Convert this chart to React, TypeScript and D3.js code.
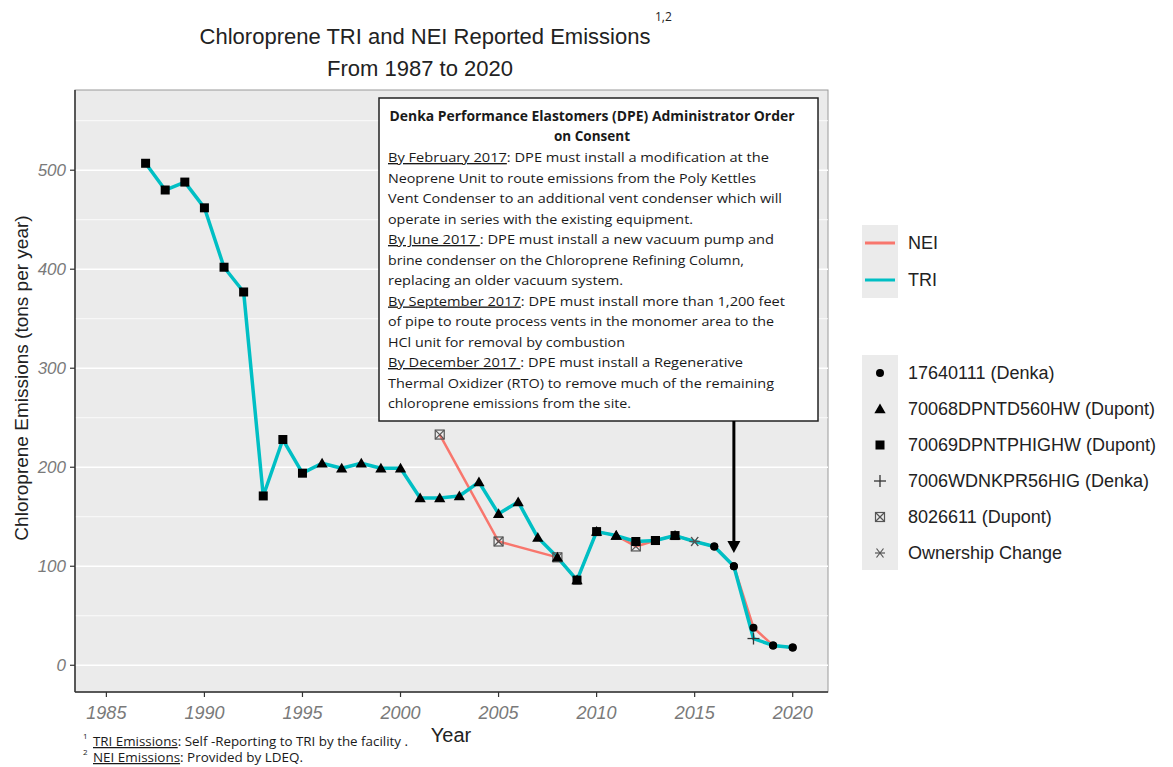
import React from "react";
import * as d3 from "d3";

const triYears = [1987,1988,1989,1990,1991,1992,1993,1994,1995,1996,1997,1998,1999,2000,2001,2002,2003,2004,2005,2006,2007,2008,2009,2010,2011,2012,2013,2014,2015,2016,2017,2018,2019,2020];
const triValues = [507,480,488,462,402,377,171,228,194,204,199,204,199,199,169,169,171,185,153,165,129,109,86,135,131,125,126,131,125,120,100,27,20,18];
const triShapes = ["sq","sq","sq","sq","sq","sq","sq","sq","sq","tri","tri","tri","tri","tri","tri","tri","tri","tri","tri","tri","tri","tri","tri","sq","tri","sq","sq","sq","ast","ci","ci","plus","ci","ci"];

const neiYears = [2002,2005,2008,2009,2010,2011,2012,2013,2014,2015,2016,2017,2018,2019,2020];
const neiValues = [233,125,109,86,135,131,120,126,131,125,120,100,38,20,18];
const neiShapes = ["bx","bx","bx","sq","tri","tri","bx","sq","tri","ast","ci","ci","ci","ci","ci"];

const xTicks = [1985,1990,1995,2000,2005,2010,2015,2020];
const yTicks = [0,100,200,300,400,500];
const yMinor = [50,150,250,350,450,550];

const lineLegend = [
  { label: "NEI", color: "#F8766D" },
  { label: "TRI", color: "#00BFC4" },
];
const shapeLegend = [
  { label: "17640111 (Denka)", shape: "ci" },
  { label: "70068DPNTD560HW (Dupont)", shape: "tri" },
  { label: "70069DPNTPHIGHW (Dupont)", shape: "sq" },
  { label: "7006WDNKPR56HIG (Denka)", shape: "plus" },
  { label: "8026611 (Dupont)", shape: "bx" },
  { label: "Ownership Change", shape: "ast" },
];

type Seg = { u?: string; t: string };
const noteLines: { segs: Seg[]; len: number }[] = [
  { segs: [{ u: "By February 2017", t: ": DPE must install a modification at the" }], len: 381 },
  { segs: [{ t: "Neoprene Unit to route emissions from the Poly Kettles" }], len: 368 },
  { segs: [{ t: "Vent Condenser to an additional vent condenser which will" }], len: 394 },
  { segs: [{ t: "operate in series with the existing equipment." }], len: 305 },
  { segs: [{ u: "By June 2017 ", t: ": DPE must install  a new vacuum pump and" }], len: 386 },
  { segs: [{ t: "brine condenser on the Chloroprene Refining Column," }], len: 356 },
  { segs: [{ t: "replacing an older vacuum system." }], len: 235 },
  { segs: [{ u: "By September 2017", t: ": DPE must install more than 1,200 feet" }], len: 397 },
  { segs: [{ t: "of pipe to route process vents in the monomer area to the" }], len: 386 },
  { segs: [{ t: "HCl unit for removal by combustion" }], len: 237 },
  { segs: [{ u: "By December 2017 ", t: ": DPE must install a Regenerative" }], len: 355 },
  { segs: [{ t: "Thermal Oxidizer (RTO) to remove much of the remaining" }], len: 386 },
  { segs: [{ t: "chloroprene emissions from the site." }], len: 243 },
];

const W = 1173, H = 767;
const panel = { left: 75, right: 828, top: 90, bottom: 692 };
const x = d3.scaleLinear().domain([1983.4, 2021.8]).range([panel.left, panel.right]);
const y = d3.scaleLinear().domain([-27, 581]).range([panel.bottom, panel.top]);

function Marker({ shape, cx, cy }: { shape: string; cx: number; cy: number }) {
  if (shape === "sq") return <rect x={cx - 4.5} y={cy - 4.5} width={9} height={9} fill="#000" />;
  if (shape === "tri") {
    const p = d3.symbol().type(d3.symbolTriangle).size(55)();
    return <path d={p || ""} transform={`translate(${cx},${cy + 1})`} fill="#000" />;
  }
  if (shape === "ci") return <circle cx={cx} cy={cy} r={4} fill="#000" />;
  if (shape === "plus")
    return (
      <g stroke="#333" strokeWidth={1.3}>
        <line x1={cx - 6} x2={cx + 6} y1={cy} y2={cy} />
        <line x1={cx} x2={cx} y1={cy - 6} y2={cy + 6} />
      </g>
    );
  if (shape === "bx")
    return (
      <g stroke="#555" strokeWidth={1.2} fill="none">
        <rect x={cx - 4.5} y={cy - 4.5} width={9} height={9} />
        <line x1={cx - 4.5} x2={cx + 4.5} y1={cy - 4.5} y2={cy + 4.5} />
        <line x1={cx - 4.5} x2={cx + 4.5} y1={cy + 4.5} y2={cy - 4.5} />
      </g>
    );
  if (shape === "ast")
    return (
      <g stroke="#555" strokeWidth={1.2}>
        <line x1={cx - 5} x2={cx + 5} y1={cy} y2={cy} />
        <line x1={cx - 3.5} x2={cx + 3.5} y1={cy - 4.5} y2={cy + 4.5} />
        <line x1={cx - 3.5} x2={cx + 3.5} y1={cy + 4.5} y2={cy - 4.5} />
      </g>
    );
  return null;
}

export default function App() {
  const line = d3.line<[number, number]>().x((d) => x(d[0])).y((d) => y(d[1]));
  const triPts: [number, number][] = triYears.map((yr, i) => [yr, triValues[i]]);
  const neiPts: [number, number][] = neiYears.map((yr, i) => [yr, neiValues[i]]);
  const box = { x: 379, y: 98, w: 439, h: 323 };
  const arrowX = x(2017);
  const sans = "'Liberation Sans', Arial, sans-serif";
  const note = "'Open Sans', 'Noto Sans', sans-serif";
  return (
    <svg width={W} height={H} style={{ position: "absolute", left: 0, top: 0, background: "#fff" }} fontFamily={sans}>
      {/* title */}
      <text x={425} y={44} textAnchor="middle" fontSize={22} fill="#222">Chloroprene TRI and NEI Reported Emissions</text>
      <text x={655} y={21} fontSize={12} fill="#222" fontFamily={note}>1,2</text>
      <text x={420} y={76} textAnchor="middle" fontSize={22} fill="#222">From 1987 to 2020</text>

      {/* panel */}
      <rect x={panel.left} y={panel.top} width={panel.right - panel.left} height={panel.bottom - panel.top} fill="#ebebeb" stroke="#9a9a9a" strokeWidth={1} />
      {yMinor.map((v) => (
        <line key={"m" + v} x1={panel.left} x2={panel.right} y1={y(v)} y2={y(v)} stroke="#fff" strokeWidth={0.8} />
      ))}
      {yTicks.map((v) => (
        <line key={"g" + v} x1={panel.left} x2={panel.right} y1={y(v)} y2={y(v)} stroke="#fff" strokeWidth={1.6} />
      ))}
      {/* axis lines */}
      <line x1={panel.left} x2={panel.left} y1={panel.top} y2={panel.bottom} stroke="#333" strokeWidth={1.5} />
      <line x1={panel.left} x2={panel.right} y1={panel.bottom} y2={panel.bottom} stroke="#333" strokeWidth={1.5} />
      {yTicks.map((v) => (
        <g key={"yt" + v}>
          <line x1={panel.left - 5} x2={panel.left} y1={y(v)} y2={y(v)} stroke="#333" strokeWidth={1.2} />
          <text x={panel.left - 9} y={y(v) + 6} textAnchor="end" fontSize={17} fontStyle="italic" fill="#7a7a7a">{v}</text>
        </g>
      ))}
      {xTicks.map((v) => (
        <g key={"xt" + v}>
          <line x1={x(v)} x2={x(v)} y1={panel.bottom} y2={panel.bottom + 5} stroke="#333" strokeWidth={1.2} />
          <text x={x(v)} y={panel.bottom + 27} textAnchor="middle" fontSize={18} fontStyle="italic" fill="#7a7a7a">{v}</text>
        </g>
      ))}
      <text x={451} y={742} textAnchor="middle" fontSize={20} fill="#222">Year</text>
      <text transform={`translate(28,378) rotate(-90)`} textAnchor="middle" fontSize={19} fill="#222">Chloroprene Emissions (tons per year)</text>

      {/* lines */}
      <path d={line(neiPts) || ""} fill="none" stroke="#F8766D" strokeWidth={2.5} strokeLinejoin="round" />
      <path d={line(triPts) || ""} fill="none" stroke="#00BFC4" strokeWidth={3.5} strokeLinejoin="round" />
      {neiPts.map((p, i) => (
        <Marker key={"n" + i} shape={neiShapes[i]} cx={x(p[0])} cy={y(p[1])} />
      ))}
      {triPts.map((p, i) => (
        <Marker key={"t" + i} shape={triShapes[i]} cx={x(p[0])} cy={y(p[1])} />
      ))}

      {/* annotation */}
      <rect x={box.x} y={box.y} width={box.w} height={box.h} fill="#fff" stroke="#222" strokeWidth={1.5} />
      <g fontFamily={note} fontSize={13.5} fill="#1a1a1a">
        <text x={592} y={121} textAnchor="middle" fontWeight="bold" textLength={405} lengthAdjust="spacingAndGlyphs">Denka Performance Elastomers (DPE) Administrator Order</text>
        <text x={592} y={141} textAnchor="middle" fontWeight="bold" textLength={76} lengthAdjust="spacingAndGlyphs">on Consent</text>
        {noteLines.map((l, i) => (
          <text key={"nl" + i} x={388} y={162 + i * 20.5} textLength={l.len} lengthAdjust="spacingAndGlyphs">
            {l.segs.map((s, j) => (
              <React.Fragment key={j}>
                {s.u ? <tspan style={{ textDecoration: "underline" }}>{s.u}</tspan> : null}
                <tspan>{s.t}</tspan>
              </React.Fragment>
            ))}
          </text>
        ))}
      </g>
      {/* arrow */}
      <line x1={arrowX} x2={arrowX} y1={box.y + box.h} y2={542} stroke="#000" strokeWidth={3} />
      <path d={`M${arrowX - 6.5},541 L${arrowX + 6.5},541 L${arrowX},553 Z`} fill="#000" />

      {/* legends */}
      <rect x={862} y={225} width={36} height={73} fill="#ebebeb" />
      {lineLegend.map((l, i) => (
        <g key={"ll" + i}>
          <line x1={865} x2={895} y1={243 + i * 37} y2={243 + i * 37} stroke={l.color} strokeWidth={3} />
          <text x={908} y={249 + i * 37} fontSize={18} fill="#222">{l.label}</text>
        </g>
      ))}
      <rect x={862} y={355} width={36} height={215} fill="#ebebeb" />
      {shapeLegend.map((l, i) => (
        <g key={"sl" + i}>
          <Marker shape={l.shape} cx={880} cy={373 + i * 36} />
          <text x={908} y={379 + i * 36} fontSize={18} fill="#222">{l.label}</text>
        </g>
      ))}

      {/* footnotes */}
      <g fontFamily={note} fill="#1a1a1a">
        <text x={83} y={739} fontSize={8}>1</text>
        <text x={93} y={746} fontSize={12.5} textLength={315} lengthAdjust="spacingAndGlyphs">
          <tspan style={{ textDecoration: "underline" }}>TRI Emissions</tspan>
          <tspan>: Self -Reporting to TRI by the facility .</tspan>
        </text>
        <text x={83} y={755} fontSize={8}>2</text>
        <text x={93} y={762} fontSize={12.5} textLength={210} lengthAdjust="spacingAndGlyphs">
          <tspan style={{ textDecoration: "underline" }}>NEI Emissions</tspan>
          <tspan>: Provided by LDEQ.</tspan>
        </text>
      </g>
    </svg>
  );
}
